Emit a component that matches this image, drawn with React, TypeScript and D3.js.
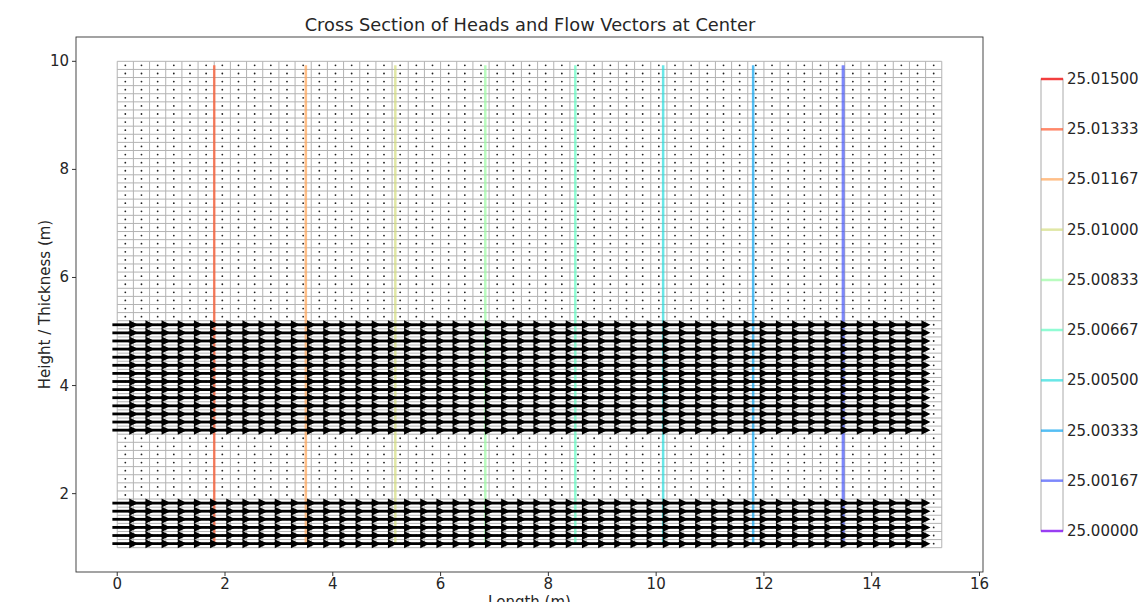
import React from 'react';
import * as d3 from 'd3';

// model grid (m)
const nCols = 51;
const nRows = 60;
const cellW = 0.3;
const cellH = 0.15;
const gridX0 = 0;
const gridY0 = 1;

// rows (from the bottom) that carry flow vectors, and how many columns have flow
const flowRows = [0, 1, 2, 3, 4, 5, 14, 15, 16, 17, 18, 19, 20, 21, 22, 23, 24, 25, 26, 27];
const flowCols = 50;
const arrowLen = 0.48;

// head contour levels and where each one crosses the section
const levels = [25.0, 25.00167, 25.00333, 25.005, 25.00667, 25.00833, 25.01, 25.01167, 25.01333, 25.015];
const levelLabels = ['25.00000', '25.00167', '25.00333', '25.00500', '25.00667', '25.00833', '25.01000', '25.01167', '25.01333', '25.01500'];
const contourX = [null, 13.47, 11.8, 10.13, 8.5, 6.83, 5.16, 3.5, 1.8, null];

const xTicks = [0, 2, 4, 6, 8, 10, 12, 14, 16];
const yTicks = [2, 4, 6, 8, 10];

const font = '"DejaVu Sans", sans-serif';
const ink = '#262626';

// matplotlib "rainbow"
const rainbow = (t: number) => {
  const r = Math.min(1, Math.abs(2 * t - 0.5));
  const g = Math.sin(Math.PI * t);
  const b = Math.cos((Math.PI * t) / 2);
  return d3.rgb(r * 255, g * 255, b * 255).formatHex();
};

const App = () => {
  const x = d3.scaleLinear().domain([-0.765, 16.065]).range([76, 983]);
  const y = d3.scaleLinear().domain([0.55, 10.45]).range([572, 37]);

  const cb = d3.scaleLinear().domain([levels[0], levels[levels.length - 1]]).range([531, 79]);
  const color = (i: number) => rainbow(i / (levels.length - 1));

  const colEdges = d3.range(nCols + 1).map(i => gridX0 + i * cellW);
  const rowEdges = d3.range(nRows + 1).map(j => gridY0 + j * cellH);
  const centersX = d3.range(nCols).map(i => gridX0 + (i + 0.5) * cellW);
  const centersY = d3.range(nRows).map(j => gridY0 + (j + 0.5) * cellH);
  const xMax = colEdges[nCols];
  const yMax = rowEdges[nRows];

  const headL = 9;
  const headW = 4.5;

  return (
    <svg width={1140} height={602} style={{ position: 'absolute', left: 0, top: 0, background: '#fff' }}>
      <text x={530} y={31} textAnchor="middle" fontFamily={font} fontSize={17.8} fill={ink}>
        Cross Section of Heads and Flow Vectors at Center
      </text>

      {/* grid */}
      <g stroke="#b3b3b3" strokeWidth={1}>
        {colEdges.map((c, i) => (
          <line key={'c' + i} x1={x(c)} x2={x(c)} y1={y(gridY0)} y2={y(yMax)} />
        ))}
        {rowEdges.map((r, j) => (
          <line key={'r' + j} x1={x(gridX0)} x2={x(xMax)} y1={y(r)} y2={y(r)} />
        ))}
      </g>

      {/* zero vectors */}
      <g fill="#222">
        {centersY.map((cy, j) =>
          centersX.map((cx, i) => <circle key={j + '-' + i} cx={x(cx)} cy={y(cy)} r={0.9} />)
        )}
      </g>

      {/* contours */}
      <g opacity={0.7}>
        {contourX.map((cx, i) =>
          cx == null ? null : (
            <line
              key={'k' + i}
              x1={x(cx)}
              x2={x(cx)}
              y1={y(centersY[0])}
              y2={y(centersY[nRows - 1])}
              stroke={color(i)}
              strokeWidth={i === 1 ? 3 : 2.5}
            />
          )
        )}
      </g>

      {/* flow vectors */}
      <g>
        {flowRows.map(j =>
          d3.range(flowCols).map(i => {
            const cx = centersX[i];
            const cy = y(centersY[j]);
            const x0 = x(cx - arrowLen / 2);
            const x1 = x(cx + arrowLen / 2);
            return (
              <g key={j + '-' + i}>
                <line x1={x0} x2={x1 - headL + 1} y1={cy} y2={cy} stroke="#000" strokeWidth={2.8} />
                <path d={`M${x1},${cy}L${x1 - headL},${cy - headW}L${x1 - headL},${cy + headW}Z`} fill="#000" />
              </g>
            );
          })
        )}
      </g>

      {/* frame */}
      <rect x={76} y={37} width={907} height={535} fill="none" stroke="#333" strokeWidth={0.9} />

      {/* x axis */}
      {xTicks.map(t => (
        <g key={'xt' + t}>
          <line x1={x(t)} x2={x(t)} y1={572} y2={576} stroke="#333" />
          <text x={x(t)} y={589} textAnchor="middle" fontFamily={font} fontSize={15} fill={ink}>
            {t}
          </text>
        </g>
      ))}
      <text x={x(7.65)} y={607} textAnchor="middle" fontFamily={font} fontSize={15} fill={ink}>
        Length (m)
      </text>

      {/* y axis */}
      {yTicks.map(t => (
        <g key={'yt' + t}>
          <line x1={72} x2={76} y1={y(t)} y2={y(t)} stroke="#333" />
          <text x={69} y={y(t) + 5} textAnchor="end" fontFamily={font} fontSize={15} fill={ink}>
            {t}
          </text>
        </g>
      ))}
      <text
        transform={`translate(50,${(37 + 572) / 2}) rotate(-90)`}
        textAnchor="middle"
        fontFamily={font}
        fontSize={15}
        fill={ink}
      >
        Height / Thickness (m)
      </text>

      {/* colorbar */}
      <rect x={1041} y={79} width={22} height={452} fill="none" stroke="#aaa" strokeWidth={1} />
      {levels.map((lv, i) => (
        <g key={'cb' + i}>
          <line x1={1041} x2={1063} y1={cb(lv)} y2={cb(lv)} stroke={color(i)} strokeWidth={2.5} opacity={0.7} />
          <text x={1067} y={cb(lv) + 5} fontFamily={font} fontSize={15} fill={ink}>
            {levelLabels[i]}
          </text>
        </g>
      ))}
    </svg>
  );
};

export default App;
